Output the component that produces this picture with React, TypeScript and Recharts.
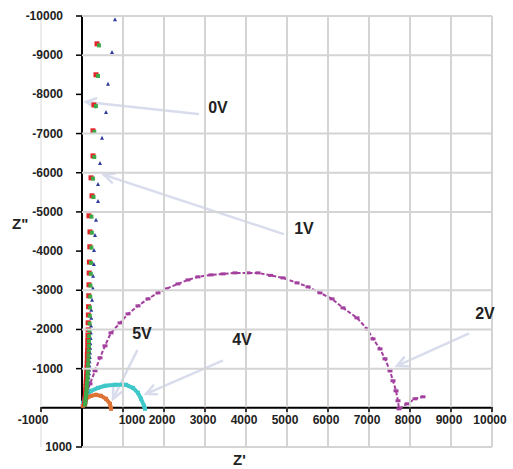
import React from 'react';
import {
    ScatterChart, Scatter, XAxis, YAxis, ReferenceLine, ReferenceDot
} from 'recharts';

// Z' / Z'' readings for each bias, [Z', Z'']
const zeroVRed: [number, number][] = [
    [366, -9290], [341, -8500], [290, -7730], [268, -7070], [268, -6430], [220, -5870],
    [244, -5410], [170, -4900], [195, -4490], [190, -4110], [180, -3720], [175, -3440],
    [170, -3140], [165, -2860], [160, -2580], [155, -2370], [150, -2170], [150, -1990],
    [145, -1850], [140, -1720], [140, -1600], [135, -1480], [130, -1360], [130, -1250],
    [125, -1140], [120, -1030], [115, -930], [110, -830], [105, -730], [100, -640],
    [95, -550], [90, -460], [85, -380], [80, -300], [75, -230], [70, -160], [65, -100]
];
const threeVGreen: [number, number][] = [
    [415, -9250], [390, -8470], [340, -7700], [300, -7040], [300, -6400], [268, -5850],
    [280, -5380], [230, -4880], [240, -4470], [230, -4090], [220, -3700], [215, -3420],
    [205, -3120], [200, -2840], [195, -2560], [190, -2350], [185, -2150], [180, -1970],
    [175, -1830], [170, -1700], [170, -1580], [165, -1460], [160, -1340], [155, -1230],
    [150, -1120], [145, -1010], [140, -910], [135, -810], [130, -710], [120, -620],
    [115, -530], [110, -440], [100, -360], [95, -280], [85, -210], [80, -140], [70, -80]
];
const oneVBlue: [number, number][] = [
    [805, -9920], [732, -9080], [634, -8270], [585, -7550], [488, -6890], [439, -6250],
    [390, -5710], [390, -5280], [341, -4800], [317, -4410], [293, -4030], [290, -3670],
    [270, -3370], [265, -3060], [245, -2760], [225, -2500], [225, -2300], [220, -2100],
    [215, -1920], [210, -1780], [205, -1650], [200, -1530], [195, -1410], [190, -1300],
    [185, -1190], [180, -1080], [175, -980], [170, -880], [160, -780], [150, -690],
    [140, -600], [130, -510], [120, -430], [110, -350], [100, -270], [90, -200], [80, -130]
];
const twoV: [number, number][] = [
    [30, -60], [73, -255], [195, -612], [317, -944], [439, -1276], [561, -1582], [707, -1913],
    [927, -2168], [1122, -2398], [1366, -2602], [1610, -2781], [1854, -2934], [2049, -3036],
    [2341, -3163], [2585, -3265], [2829, -3342], [3146, -3393], [3439, -3418], [3732, -3444],
    [4049, -3444], [4293, -3444], [4600, -3380], [4902, -3316], [5244, -3189], [5512, -3087],
    [5805, -2934], [6098, -2781], [6366, -2551], [6707, -2296], [6951, -2015], [7098, -1760],
    [7268, -1505], [7390, -1250], [7512, -944], [7585, -689], [7659, -434], [7707, -179],
    [7732, 26], [7927, -102], [8122, -230], [8317, -281]
];
const fourV: [number, number][] = [
    [24, -128], [98, -306], [220, -434], [390, -510], [561, -561], [805, -587], [1073, -587],
    [1244, -510], [1366, -383], [1439, -230], [1512, -51], [1537, 26]
];
const fiveV: [number, number][] = [
    [24, -51], [98, -230], [220, -306], [341, -332], [463, -306], [585, -230], [683, -102], [707, 26]
];

const xTicks = [-1000, 1000, 2000, 3000, 4000, 5000, 6000, 7000, 8000, 9000, 10000];
const yTicks = [-10000, -9000, -8000, -7000, -6000, -5000, -4000, -3000, -2000, -1000, 1000];
const gridX = [1000, 2000, 3000, 4000, 5000, 6000, 7000, 8000, 9000, 10000];
const gridY = [-10000, -9000, -7000, -6000, -5000, -3000, -2000, -1000, 1000];

// callouts: label position, arrow start, arrow tip
const callouts = [
    { text: '0V', label: [3317, -7680], from: [2829, -7500], to: [98, -7806] },
    { text: '1V', label: [5415, -4570], from: [4902, -4440], to: [537, -5944] },
    { text: '2V', label: [9829, -2420], from: [9415, -1888], to: [7683, -1071] },
    { text: '4V', label: [3902, -1760], from: [3415, -1199], to: [1561, -357] },
    { text: '5V', label: [1463, -1890], from: [1341, -1454], to: [756, -230] },
];

const toPoints = (arr: [number, number][]) => arr.map(([x, y]) => ({ x, y }));

const GRID = '#d4d4d4';
const TEXT = '#222';
const MAGENTA = '#a3409e';
const PLOT_W = 451;
const PLOT_H = 431;

// each tick also draws its own grid line (Z'=0 .. 10000 for rows, full height for columns)
const YTick = (props: any) => {
    const { x, y, payload } = props;
    const v = payload.value;
    const shift = v === 1000 ? 31 : 22;
    return (
        <g>
            {gridY.includes(v) && (
                <line x1={x + 41} x2={x + PLOT_W} y1={y} y2={y} stroke={GRID} strokeWidth={2} />
            )}
            <line x1={x + 35} x2={x + 41} y1={y} y2={y} stroke="#000" strokeWidth={1.5} />
            <text x={x + shift} y={y + 4} textAnchor="end" fontSize={12} fontWeight="bold" fill={TEXT}>
                {v}
            </text>
        </g>
    );
};

const XTick = (props: any) => {
    const { x, y, payload } = props;
    const v = payload.value;
    const shift = v === -1000 ? -8 : v === 1000 ? 9 : -2;
    return (
        <g>
            <line
                x1={x} x2={x} y1={y - PLOT_H} y2={y}
                stroke={gridX.includes(v) ? GRID : '#e6e6e6'}
                strokeWidth={gridX.includes(v) ? 2 : 1.5}
            />
            <line x1={x} x2={x} y1={y - 40} y2={y - 35} stroke="#000" strokeWidth={1.5} />
            <text x={x + shift} y={y - 23} textAnchor="middle" fontSize={12} fontWeight="bold" fill={TEXT}>
                {v}
            </text>
        </g>
    );
};

const Arrow = (props: any) => {
    const { x1, y1, x2, y2 } = props;
    const a = Math.atan2(y2 - y1, x2 - x1);
    const len = 11;
    const spread = 0.45;
    const p1x = x2 - len * Math.cos(a - spread);
    const p1y = y2 - len * Math.sin(a - spread);
    const p2x = x2 - len * Math.cos(a + spread);
    const p2y = y2 - len * Math.sin(a + spread);
    return (
        <g stroke="#d8dcec" strokeWidth={2.5} fill="none" strokeLinecap="round">
            <line x1={x1} y1={y1} x2={x2} y2={y2} />
            <path d={`M${p1x},${p1y} L${x2},${y2} L${p2x},${p2y}`} />
        </g>
    );
};

const square = (size: number, color: string) => (p: any) =>
    <rect x={p.cx - size / 2} y={p.cy - size / 2} width={size} height={size} fill={color} />;

const triangle = (p: any) =>
    <path d={`M${p.cx - 2},${p.cy + 2} L${p.cx + 2},${p.cy + 2} L${p.cx},${p.cy - 2} Z`} fill="#2f3b9b" />;

const dash = (p: any) =>
    <rect x={p.cx - 2.5} y={p.cy - 1.5} width={5} height={3} fill={MAGENTA} />;

export default function App() {
    return (
        <div style={{ position: 'absolute', left: 0, top: 0, background: '#fff' }}>
            <ScatterChart
                width={513}
                height={469}
                margin={{ top: 16, right: 21, bottom: 0, left: 0 }}
                style={{ fontFamily: '"Liberation Sans", Arial, sans-serif' }}
            >
                <XAxis
                    type="number"
                    dataKey="x"
                    domain={[-1000, 10000]}
                    ticks={xTicks}
                    height={22}
                    axisLine={false}
                    tickLine={false}
                    tickSize={0}
                    tickMargin={0}
                    tick={<XTick />}
                    allowDataOverflow
                    label={{
                        content: (p: any) => (
                            <text x={233} y={p.viewBox.y + 18} fontSize={15} fontWeight="bold" fill={TEXT}>Z'</text>
                        )
                    }}
                />
                <YAxis
                    type="number"
                    dataKey="y"
                    domain={[-10000, 1000]}
                    reversed
                    ticks={yTicks}
                    width={41}
                    axisLine={false}
                    tickLine={false}
                    tickSize={0}
                    tickMargin={0}
                    tick={<YTick />}
                    allowDataOverflow
                    label={{
                        content: (p: any) => (
                            <text x={p.viewBox.x + 12} y={229} fontSize={15} fontWeight="bold" fill={TEXT}>Z"</text>
                        )
                    }}
                />

                <ReferenceLine x={0} stroke="#000" strokeWidth={2} />
                <ReferenceLine segment={[{ x: -1000, y: 0 }, { x: 10000, y: 0 }]} stroke="#000" strokeWidth={2} />

                <Scatter
                    data={toPoints(twoV)}
                    isAnimationActive={false}
                    line={{ stroke: MAGENTA, strokeWidth: 2, strokeDasharray: '4 2' }}
                    shape={dash}
                />
                <Scatter
                    data={toPoints(fourV)}
                    isAnimationActive={false}
                    line={{ stroke: '#3fc7c9', strokeWidth: 4 }}
                    shape={square(4, '#3fc7c9')}
                />
                <Scatter
                    data={toPoints(fiveV)}
                    isAnimationActive={false}
                    line={{ stroke: '#dd7435', strokeWidth: 4 }}
                    shape={square(4, '#dd7435')}
                />
                <Scatter data={toPoints(oneVBlue)} isAnimationActive={false} shape={triangle} />
                <Scatter data={toPoints(zeroVRed)} isAnimationActive={false} shape={square(5, '#e3262b')} />
                <Scatter data={toPoints(threeVGreen)} isAnimationActive={false} shape={square(4, '#3daa47')} />

                {callouts.map((c) => (
                    <ReferenceLine
                        key={`a${c.text}`}
                        segment={[{ x: c.from[0], y: c.from[1] }, { x: c.to[0], y: c.to[1] }]}
                        shape={Arrow}
                    />
                ))}
                {callouts.map((c) => (
                    <ReferenceDot
                        key={`l${c.text}`}
                        x={c.label[0]}
                        y={c.label[1]}
                        r={0}
                        stroke="none"
                        fill="none"
                        label={{ value: c.text, position: 'center', fontSize: 16, fontWeight: 'bold', fill: TEXT }}
                    />
                ))}
            </ScatterChart>
        </div>
    );
}
